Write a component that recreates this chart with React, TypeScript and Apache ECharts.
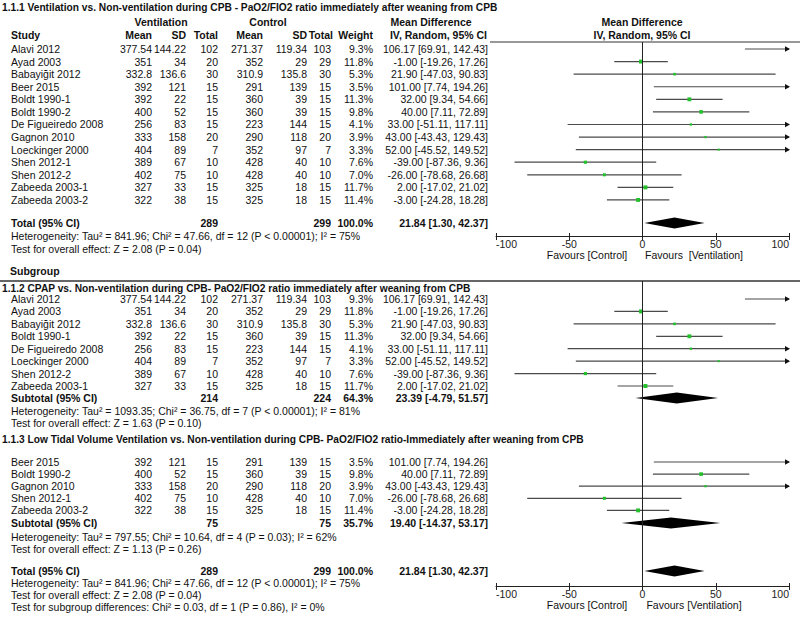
import React, { useEffect, useRef } from "react";
import * as echarts from "echarts";

// ---------------- DATA ----------------
const studyNames = ["Alavi 2012", "Ayad 2003", "Babayiğit 2012", "Beer 2015", "Boldt 1990-1", "Boldt 1990-2", "De Figueiredo 2008", "Gagnon 2010", "Loeckinger 2000", "Shen 2012-1", "Shen 2012-2", "Zabeeda 2003-1", "Zabeeda 2003-2"];
const ventMean = ["377.54", "351", "332.8", "392", "392", "400", "256", "333", "404", "389", "402", "327", "322"];
const ventSD = ["144.22", "34", "136.6", "121", "22", "52", "83", "158", "89", "67", "75", "33", "38"];
const ventN = [102, 20, 30, 15, 15, 15, 15, 20, 7, 10, 10, 15, 15];
const ctrlMean = ["271.37", "352", "310.9", "291", "360", "360", "223", "290", "352", "428", "428", "325", "325"];
const ctrlSD = ["119.34", "29", "135.8", "139", "39", "39", "144", "118", "97", "40", "40", "18", "18"];
const ctrlN = [103, 29, 30, 15, 15, 15, 15, 20, 7, 10, 10, 15, 15];
const weights = [9.3, 11.8, 5.3, 3.5, 11.3, 9.8, 4.1, 3.9, 3.3, 7.6, 7.0, 11.7, 11.4];
const md = [106.17, -1.0, 21.9, 101.0, 32.0, 40.0, 33.0, 43.0, 52.0, -39.0, -26.0, 2.0, -3.0];
const ciLo = [69.91, -19.26, -47.03, 7.74, 9.34, 7.11, -51.11, -43.43, -45.52, -87.36, -78.68, -17.02, -24.28];
const ciHi = [142.43, 17.26, 90.83, 194.26, 54.66, 72.89, 117.11, 129.43, 149.52, 9.36, 26.68, 21.02, 18.28];

// subgroup membership (row index into the arrays above, with the displayed name)
const sub112Rows = [0, 1, 2, 4, 6, 8, 9, 11];
const sub112Names = ["Alavi 2012", "Ayad 2003", "Babayiğit 2012", "Boldt 1990-1", "De Figueiredo 2008", "Loeckinger 2000", "Shen 2012-2", "Zabeeda 2003-1"];
const sub113Rows = [3, 5, 7, 10, 12];
const sub113Names = ["Beer 2015", "Boldt 1990-2", "Gagnon 2010", "Shen 2012-1", "Zabeeda 2003-2"];

// pooled results: [ventN, ctrlN, weight, md, lo, hi]
const totalAll = [289, 299, 100.0, 21.84, 1.3, 42.37];
const total112 = [214, 224, 64.3, 23.39, -4.79, 51.57];
const total113 = [75, 75, 35.7, 19.4, -14.37, 53.17];

const title111 = "1.1.1 Ventilation vs. Non-ventilation during CPB - PaO2/FIO2 ratio immediately after weaning from CPB";
const title112 = "1.1.2 CPAP vs. Non-ventilation during CPB- PaO2/FIO2 ratio immediately after weaning from CPB";
const title113 = "1.1.3 Low Tidal Volume Ventilation vs. Non-ventilation during CPB- PaO2/FIO2 ratio-Immediately after weaning from CPB";
const hetAll = "Heterogeneity: Tau² = 841.96; Chi² = 47.66, df = 12 (P < 0.00001); I² = 75%";
const testAll = "Test for overall effect: Z = 2.08 (P = 0.04)";
const het112 = "Heterogeneity: Tau² = 1093.35; Chi² = 36.75, df = 7 (P < 0.00001); I² = 81%";
const test112 = "Test for overall effect: Z = 1.63 (P = 0.10)";
const het113 = "Heterogeneity: Tau² = 797.55; Chi² = 10.64, df = 4 (P = 0.03); I² = 62%";
const test113 = "Test for overall effect: Z = 1.13 (P = 0.26)";
const subDiff = "Test for subgroup differences: Chi² = 0.03, df = 1 (P = 0.86), I² = 0%";
const xTicks = [-100, -50, 0, 50, 100];

// ---------------- LAYOUT ----------------
const FAM = "'Liberation Sans', Arial, sans-serif";
const FS = 10.5;
const XMIN = -100, XMAX = 100;
const COL = { study: 11, vMean: 152, vSD: 186, vN: 218, cMean: 263, cSD: 307, cN: 331, weight: 373, ci: 488 };
const PLOT_L = 496, PLOT_R = 789;
const AXIS1_Y = 236, AXIS2_Y = 586;

const fmtCI = (m: number, l: number, h: number) => `${m.toFixed(2)} [${l.toFixed(2)}, ${h.toFixed(2)}]`;

function txt(text: string, x: number, y: number, align: string, bold = false, size = FS) {
  return {
    type: "text", x, y, silent: true,
    style: { text, font: `${bold ? "bold " : ""}${size}px ${FAM}`, fill: "#111", textAlign: align, textVerticalAlign: "middle", verticalAlign: "middle" },
  };
}

function studyRowTexts(i: number, name: string, y: number) {
  return [
    txt(name, COL.study, y, "left"),
    txt(ventMean[i], COL.vMean, y, "right"),
    txt(ventSD[i], COL.vSD, y, "right"),
    txt(String(ventN[i]), COL.vN, y, "right"),
    txt(ctrlMean[i], COL.cMean, y, "right"),
    txt(ctrlSD[i], COL.cSD, y, "right"),
    txt(String(ctrlN[i]), COL.cN, y, "right"),
    txt(`${weights[i].toFixed(1)}%`, COL.weight, y, "right"),
    txt(fmtCI(md[i], ciLo[i], ciHi[i]), COL.ci, y, "right"),
  ];
}

function totalRowTexts(label: string, t: number[], y: number) {
  return [
    txt(label, COL.study, y, "left", true),
    txt(String(t[0]), COL.vN, y, "right", true),
    txt(String(t[1]), COL.cN, y, "right", true),
    txt(`${t[2].toFixed(1)}%`, COL.weight, y, "right", true),
    txt(fmtCI(t[3], t[4], t[5]), COL.ci, y, "right", true),
  ];
}

// row y positions
const y1 = (k: number) => 49 + k * 12.58;
const y2 = (k: number) => 299 + k * 12.43;
const y3 = (k: number) => 462 + k * 12.1;
const Y = {
  title1: 7, head1: 22, head2: 35, rule1: 42,
  total1: 223, het1: 236, test1: 249,
  subgroup: 271, rule2: 281,
  title2: 288, sub2: 398, het2: 411, test2: 423,
  title3: 439, sub3: 523, het3: 537, test3: 549,
  total: 571, het: 583, test: 595, diff: 607,
  fav1: 255, fav2: 605,
};

export default function App() {
  const ref = useRef<HTMLDivElement>(null);
  useEffect(() => {
    const chart = echarts.init(ref.current!, null, { renderer: "svg" });

    // ------ texts ------
    const g: any[] = [];
    g.push(txt(title111, 2, Y.title1, "left", true, 10.2));
    g.push(txt("Ventilation", 161, Y.head1, "center", true));
    g.push(txt("Control", 268, Y.head1, "center", true));
    g.push(txt("Mean Difference", 431, Y.head1, "center", true));
    g.push(txt("Mean Difference", 642, Y.head1, "center", true));
    g.push(txt("Study", COL.study, Y.head2, "left", true));
    g.push(txt("Mean", COL.vMean, Y.head2, "right", true));
    g.push(txt("SD", COL.vSD, Y.head2, "right", true));
    g.push(txt("Total", COL.vN, Y.head2, "right", true));
    g.push(txt("Mean", COL.cMean, Y.head2, "right", true));
    g.push(txt("SD", COL.cSD, Y.head2, "right", true));
    g.push(txt("Total", COL.cN + 2, Y.head2, "right", true));
    g.push(txt("Weight", COL.weight, Y.head2, "right", true));
    g.push(txt("IV, Random, 95% CI", COL.ci - 1, Y.head2, "right", true));
    g.push(txt("IV, Random, 95% CI", 642, Y.head2, "center", true));

    studyNames.forEach((n, i) => g.push(...studyRowTexts(i, n, y1(i))));
    g.push(...totalRowTexts("Total (95% CI)", totalAll, Y.total1));
    g.push(txt(hetAll, COL.study, Y.het1, "left"));
    g.push(txt(testAll, COL.study, Y.test1, "left"));
    g.push(txt("Favours [Control]", 587, Y.fav1, "center"));
    g.push(txt("Favours  [Ventilation]", 694, Y.fav1, "center"));

    g.push(txt("Subgroup", 10, Y.subgroup, "left", true));
    g.push(txt(title112, 2, Y.title2, "left", true, 10.2));
    sub112Rows.forEach((r, k) => g.push(...studyRowTexts(r, sub112Names[k], y2(k))));
    g.push(...totalRowTexts("Subtotal (95% CI)", total112, Y.sub2));
    g.push(txt(het112, COL.study, Y.het2, "left"));
    g.push(txt(test112, COL.study, Y.test2, "left"));

    g.push(txt(title113, 2, Y.title3, "left", true, 10.2));
    sub113Rows.forEach((r, k) => g.push(...studyRowTexts(r, sub113Names[k], y3(k))));
    g.push(...totalRowTexts("Subtotal (95% CI)", total113, Y.sub3));
    g.push(txt(het113, COL.study, Y.het3, "left"));
    g.push(txt(test113, COL.study, Y.test3, "left"));

    g.push(...totalRowTexts("Total (95% CI)", totalAll, Y.total));
    g.push(txt(hetAll, COL.study, Y.het, "left"));
    g.push(txt(testAll, COL.study, Y.test, "left"));
    g.push(txt(subDiff, COL.study, Y.diff, "left"));
    g.push(txt("Favours [Control]", 587, Y.fav2, "center"));
    g.push(txt("Favours [Ventilation]", 694, Y.fav2, "center"));

    // rules
    g.push({ type: "line", silent: true, shape: { x1: 490, y1: Y.rule1, x2: 800, y2: Y.rule1 }, style: { stroke: "#333", lineWidth: 1 } });
    g.push({ type: "line", silent: true, shape: { x1: 0, y1: Y.rule2, x2: 800, y2: Y.rule2 }, style: { stroke: "#333", lineWidth: 1.5 } });

    // ------ marks ------
    const ciData1 = studyNames.map((_, i) => [ciLo[i], ciHi[i], md[i], y1(i), weights[i]]);
    const ciData2 = [
      ...sub112Rows.map((r, k) => [ciLo[r], ciHi[r], md[r], y2(k), weights[r]]),
      ...sub113Rows.map((r, k) => [ciLo[r], ciHi[r], md[r], y3(k), weights[r]]),
    ];
    const diaData1 = [[totalAll[4], totalAll[5], totalAll[3], Y.total1]];
    const diaData2 = [
      [total112[4], total112[5], total112[3], Y.sub2],
      [total113[4], total113[5], total113[3], Y.sub3],
      [totalAll[4], totalAll[5], totalAll[3], Y.total],
    ];

    const ciRender = (params: any, api: any) => {
      const lo = api.value(0), hi = api.value(1), m = api.value(2), y = api.value(3), w = api.value(4);
      const p1 = api.coord([Math.max(lo, XMIN), y]);
      const p2 = api.coord([Math.min(hi, XMAX), y]);
      const children: any[] = [
        { type: "line", shape: { x1: p1[0], y1: p1[1], x2: p2[0], y2: p2[1] }, style: { stroke: "#4a4a4a", lineWidth: 1.2 } },
      ];
      if (hi > XMAX) {
        children.push({ type: "polygon", shape: { points: [[p2[0] + 1, p2[1]], [p2[0] - 4, p2[1] - 2.8], [p2[0] - 4, p2[1] + 2.8]] }, style: { fill: "#111" } });
      }
      if (lo < XMIN) {
        children.push({ type: "polygon", shape: { points: [[p1[0] - 1, p1[1]], [p1[0] + 4, p1[1] - 2.8], [p1[0] + 4, p1[1] + 2.8]] }, style: { fill: "#111" } });
      }
      if (m >= XMIN && m <= XMAX) {
        const c = api.coord([m, y]);
        const s = Math.sqrt(w) * 1.15;
        children.push({ type: "rect", shape: { x: c[0] - s / 2, y: c[1] - s / 2, width: s, height: s }, style: { fill: "#22c02a" } });
      }
      return { type: "group", children };
    };

    const diaRender = (params: any, api: any) => {
      const y = api.value(3);
      const a = api.coord([api.value(0), y]);
      const b = api.coord([api.value(1), y]);
      const c = api.coord([api.value(2), y]);
      const h = 5.5;
      return {
        type: "polygon",
        shape: { points: [[a[0], a[1]], [c[0], c[1] - h], [b[0], b[1]], [c[0], c[1] + h]] },
        style: { fill: "#000" },
      };
    };

    const xAxisMain = {
      type: "value", min: XMIN, max: XMAX, interval: 50,
      splitLine: { show: false },
      axisLine: { show: true, onZero: false, lineStyle: { color: "#222", width: 1 } },
      axisTick: { show: true, length: 4, lineStyle: { color: "#222" } },
      axisLabel: { color: "#222", fontSize: FS, fontFamily: FAM, margin: 2, customValues: xTicks, alignMinLabel: "left", alignMaxLabel: "right" },
    };
    // companion axis: only the upward half of the crossing ticks
    const xAxisUpTicks = {
      type: "value", min: XMIN, max: XMAX, interval: 50,
      splitLine: { show: false },
      axisLine: { show: false, onZero: false },
      axisTick: { show: true, inside: true, length: 3, lineStyle: { color: "#222" } },
      axisLabel: { show: false },
    };

    chart.setOption({
      animation: false,
      backgroundColor: "#fff",
      grid: [
        { left: PLOT_L, width: PLOT_R - PLOT_L, top: 0, height: AXIS1_Y },
        { left: PLOT_L, width: PLOT_R - PLOT_L, top: 0, height: AXIS2_Y },
      ],
      xAxis: [
        { ...xAxisMain, gridIndex: 0 },
        { ...xAxisMain, gridIndex: 1 },
        { ...xAxisUpTicks, gridIndex: 0, position: "bottom" },
        { ...xAxisUpTicks, gridIndex: 1, position: "bottom" },
      ],
      yAxis: [
        { type: "value", gridIndex: 0, min: 0, max: AXIS1_Y, inverse: true, show: false },
        { type: "value", gridIndex: 1, min: 0, max: AXIS2_Y, inverse: true, show: false },
      ],
      series: [
        { type: "line", xAxisIndex: 0, yAxisIndex: 0, data: [[0, Y.rule1], [0, AXIS1_Y]], symbol: "none", lineStyle: { color: "#222", width: 1 }, silent: true },
        { type: "line", xAxisIndex: 1, yAxisIndex: 1, data: [[0, Y.rule2], [0, AXIS2_Y]], symbol: "none", lineStyle: { color: "#222", width: 1 }, silent: true },
        { type: "custom", xAxisIndex: 0, yAxisIndex: 0, data: ciData1, renderItem: ciRender, encode: { x: [0, 1, 2], y: 3 }, clip: false, silent: true },
        { type: "custom", xAxisIndex: 1, yAxisIndex: 1, data: ciData2, renderItem: ciRender, encode: { x: [0, 1, 2], y: 3 }, clip: false, silent: true },
        { type: "custom", xAxisIndex: 0, yAxisIndex: 0, data: diaData1, renderItem: diaRender, encode: { x: [0, 1, 2], y: 3 }, clip: false, silent: true },
        { type: "custom", xAxisIndex: 1, yAxisIndex: 1, data: diaData2, renderItem: diaRender, encode: { x: [0, 1, 2], y: 3 }, clip: false, silent: true },
      ],
      graphic: { elements: g },
    });
    return () => chart.dispose();
  }, []);
  return <div ref={ref} style={{ position: "absolute", left: 0, top: 0, width: 800, height: 621, background: "#fff" }} />;
}
